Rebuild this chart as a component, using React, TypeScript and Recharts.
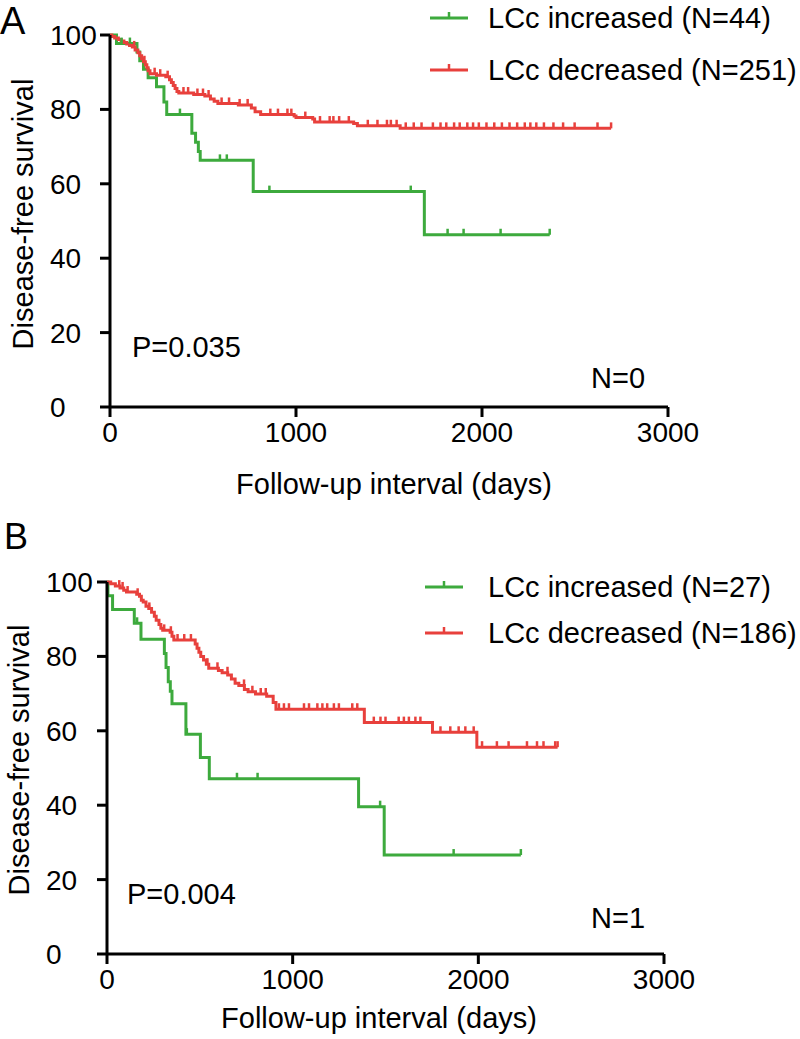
import React from 'react';
import { LineChart, Line, XAxis, YAxis, Legend } from 'recharts';

const FONT = "'Liberation Sans', Arial, Helvetica, sans-serif";
const GREEN = '#3DAA3D';
const RED = '#E8403C';

// Panel A: event days and survival (%) right after each event, censor days
const incA_days = [0, 35, 145, 160, 180, 205, 250, 290, 305, 440, 460, 475, 485, 770, 1690];
const incA_surv = [100, 97.7, 95.4, 93.1, 90.8, 88.5, 86.1, 82.0, 78.6, 73.6, 71.2, 68.7, 66.3, 57.9, 46.3];
const incA_cens = [62, 107, 376, 591, 628, 857, 1617, 1815, 1901, 2100, 2364];

const decA_days = [0, 10, 25, 45, 60, 75, 90, 105, 120, 135, 150, 160, 170, 180, 190, 198, 205, 215, 250, 300, 320, 330, 340, 350, 360, 370, 450, 510, 540, 560, 580, 690, 760, 780, 810, 990, 1000, 1090, 1100, 1310, 1330, 1560];
const decA_surv = [100, 99.6, 99.2, 98.8, 98.4, 98.0, 97.6, 97.2, 96.8, 96.0, 95.2, 94.4, 93.6, 92.8, 92.0, 91.2, 90.4, 89.6, 89.2, 88.8, 88.0, 87.2, 86.4, 85.6, 84.8, 84.4, 84.0, 83.6, 82.8, 82.2, 81.6, 81.2, 80.4, 79.4, 78.6, 78.2, 77.8, 77.4, 76.6, 76.2, 75.6, 74.9];
const decA_cens = [130, 185, 240, 270, 310, 395, 420, 470, 500, 530, 600, 640, 697, 740, 862, 903, 954, 975, 1050, 1129, 1181, 1201, 1232, 1284, 1386, 1438, 1489, 1510, 1541, 1590, 1633, 1675, 1736, 1777, 1808, 1850, 1880, 1921, 1952, 1983, 2024, 2066, 2107, 2148, 2189, 2230, 2260, 2292, 2333, 2384, 2436, 2498, 2621, 2694];

// Panel B
const incB_days = [0, 5, 30, 147, 183, 309, 318, 330, 341, 350, 425, 503, 551, 1355, 1493];
const incB_surv = [100, 96.3, 92.6, 88.9, 84.6, 80.8, 77.0, 73.2, 70.6, 67.3, 59.1, 52.8, 47.1, 39.6, 26.6];
const incB_cens = [162, 430, 700, 811, 1471, 1867, 2229];

const decB_days = [0, 20, 45, 70, 90, 105, 160, 175, 185, 195, 210, 225, 240, 255, 265, 280, 290, 300, 340, 350, 360, 475, 485, 495, 505, 520, 535, 548, 600, 620, 650, 670, 690, 710, 740, 760, 800, 860, 895, 910, 1386, 1753, 1992];
const decB_surv = [100, 99.5, 98.9, 98.4, 97.8, 97.3, 96.7, 96.2, 95.1, 94.6, 93.5, 92.9, 91.9, 90.8, 89.7, 88.6, 87.6, 87.0, 86.5, 85.4, 84.4, 83.3, 82.2, 81.1, 80.0, 79.0, 77.9, 76.8, 76.2, 75.6, 75.0, 73.9, 72.8, 72.2, 71.1, 70.5, 69.9, 69.3, 67.6, 65.8, 62.2, 59.6, 55.6];
const decB_cens = [66, 84, 111, 165, 228, 308, 344, 380, 416, 452, 541, 595, 649, 738, 783, 828, 855, 926, 953, 980, 1061, 1088, 1133, 1160, 1186, 1222, 1249, 1321, 1348, 1437, 1473, 1500, 1571, 1599, 1626, 1661, 1688, 1796, 1849, 1894, 1930, 1975, 2020, 2100, 2163, 2262, 2316, 2351, 2414, 2427];

const xTicks = [0, 1000, 2000, 3000];
const yTicks = [0, 20, 40, 60, 80, 100];

type Pt = { day: number; s: number; c: boolean };

// survival value of the step curve at a given day
function stepAt(days: number[], surv: number[], d: number) {
  let v = surv[0];
  for (let i = 0; i < days.length; i++) if (days[i] <= d) v = surv[i];
  return v;
}

function kmSeries(days: number[], surv: number[], cens: number[]): Pt[] {
  const pts: Pt[] = days.map((d, i) => ({ day: d, s: surv[i], c: false }));
  cens.forEach((d) => pts.push({ day: d, s: stepAt(days, surv, d), c: true }));
  return pts.sort((a, b) => a.day - b.day || Number(a.c) - Number(b.c));
}

const censorTick = (color: string) => (props: any) => {
  const { cx, cy, payload, index } = props;
  if (!payload || !payload.c) return <g key={`n-${index}`} />;
  return <line key={`c-${index}`} x1={cx} x2={cx} y1={cy} y2={cy - 6} stroke={color} strokeWidth={2.5} />;
};

const YTick = ({ y, payload, left }: any) => (
  <text x={left} y={y + 10} fontSize={28} fill="#000" fontFamily={FONT} textAnchor="start">
    {payload.value}
  </text>
);

const KMLegend = ({ payload, top, gap, x0 }: any) => {
  // increased group first, as in the figure
  const items = (payload || []).slice().sort((a: any, b: any) => (a.color === GREEN ? -1 : 1) - (b.color === GREEN ? -1 : 1));
  return (
    <svg width={380} height={top + gap * 2}>
      {items.map((e: any, i: number) => {
        const y = top + i * gap;
        return (
          <g key={i}>
            <line x1={x0} x2={x0 + 38} y1={y} y2={y} stroke={e.color} strokeWidth={3} />
            <line x1={x0 + 19} x2={x0 + 19} y1={y} y2={y - 6} stroke={e.color} strokeWidth={2.5} />
            <text x={68} y={y + 10} fontSize={29} fill="#000" fontFamily={FONT}>{e.value}</text>
          </g>
        );
      })}
    </svg>
  );
};

interface PanelProps {
  inc: Pt[];
  dec: Pt[];
  nInc: number;
  nDec: number;
  height: number;
  top: number;
  yWidth: number;
  xHeight: number;
  right: number;
  tickLeft: number;
  legendTop: number;
  legendGap: number;
  legendX: number;
}

function KMPanel(p: PanelProps) {
  const axis = { stroke: '#000', strokeWidth: 3 };
  return (
    <LineChart width={800} height={p.height} margin={{ top: p.top, right: p.right, bottom: 0, left: 0 }}>
      <XAxis
        type="number"
        dataKey="day"
        domain={[0, 3000]}
        ticks={xTicks}
        height={p.xHeight}
        tickSize={10}
        tickMargin={5}
        axisLine={axis}
        tickLine={axis}
        tick={{ fontSize: 28, fill: '#000', fontFamily: FONT }}
      />
      <YAxis
        type="number"
        domain={[0, 100]}
        ticks={yTicks}
        width={p.yWidth}
        tickSize={10}
        axisLine={axis}
        tickLine={axis}
        tick={(t: any) => <YTick {...t} left={p.tickLeft} />}
      />
      <Legend
        layout="vertical"
        align="center"
        verticalAlign="middle"
        wrapperStyle={{ left: 420, top: 0, width: 380 }}
        content={(lp: any) => <KMLegend payload={lp.payload} top={p.legendTop} gap={p.legendGap} x0={p.legendX} />}
      />
      <Line
        data={p.inc}
        dataKey="s"
        name={`LCc increased (N=${p.nInc})`}
        type="stepAfter"
        stroke={GREEN}
        strokeWidth={3}
        dot={censorTick(GREEN)}
        activeDot={false}
        isAnimationActive={false}
      />
      <Line
        data={p.dec}
        dataKey="s"
        name={`LCc decreased (N=${p.nDec})`}
        type="stepAfter"
        stroke={RED}
        strokeWidth={3}
        dot={censorTick(RED)}
        activeDot={false}
        isAnimationActive={false}
      />
    </LineChart>
  );
}

export default function App() {
  const txt = { fontFamily: FONT, fill: '#000' };
  return (
    <div style={{ position: 'absolute', left: 0, top: 0, width: 800, height: 1039, background: '#fff' }}>
      <div style={{ position: 'absolute', left: 0, top: 0 }}>
        <KMPanel
          inc={kmSeries(incA_days, incA_surv, incA_cens)}
          dec={kmSeries(decA_days, decA_surv, decA_cens)}
          nInc={44}
          nDec={251}
          height={520}
          top={35}
          yWidth={110}
          xHeight={113}
          right={132}
          tickLeft={50}
          legendTop={18}
          legendGap={52}
          legendX={10}
        />
      </div>
      <div style={{ position: 'absolute', left: 0, top: 520 }}>
        <KMPanel
          inc={kmSeries(incB_days, incB_surv, incB_cens)}
          dec={kmSeries(decB_days, decB_surv, decB_cens)}
          nInc={27}
          nDec={186}
          height={519}
          top={62}
          yWidth={107}
          xHeight={85}
          right={136}
          tickLeft={46}
          legendTop={67}
          legendGap={46}
          legendX={5}
        />
      </div>
      <svg width={800} height={1039} style={{ position: 'absolute', left: 0, top: 0, pointerEvents: 'none' }}>
        <text x={0} y={34} fontSize={38} {...txt}>A</text>
        <text x={4} y={549} fontSize={36} {...txt}>B</text>
        <text x={33} y={214} fontSize={29} textAnchor="middle" transform="rotate(-90 33 214)" {...txt}>Disease-free survival</text>
        <text x={29} y={760} fontSize={29} textAnchor="middle" transform="rotate(-90 29 760)" {...txt}>Disease-free survival</text>
        <text x={394} y={494} fontSize={29} textAnchor="middle" {...txt}>Follow-up interval (days)</text>
        <text x={379} y={1028} fontSize={29} textAnchor="middle" {...txt}>Follow-up interval (days)</text>
        <text x={132} y={357} fontSize={29} {...txt}>P=0.035</text>
        <text x={591} y={388} fontSize={29} {...txt}>N=0</text>
        <text x={127} y={904} fontSize={29} {...txt}>P=0.004</text>
        <text x={591} y={928} fontSize={29} {...txt}>N=1</text>
      </svg>
    </div>
  );
}
